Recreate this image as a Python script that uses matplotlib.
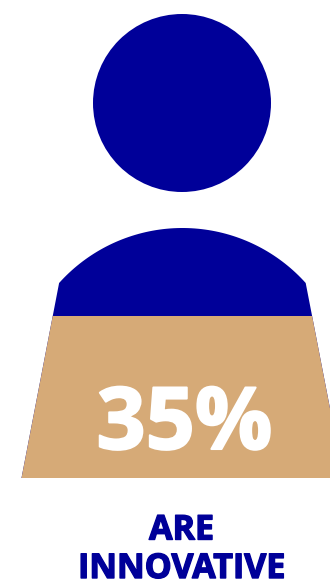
import numpy as np
import matplotlib
matplotlib.use('Agg')
import matplotlib.pyplot as plt
import matplotlib.patheffects as pe
from matplotlib.patches import Circle, PathPatch, Rectangle
from matplotlib.path import Path

# share of people and the caption under the figure
share_pct = 35
caption = ['ARE', 'INNOVATIVE']

NAVY = '#000099'
TAN = '#D6AA77'

fig = plt.figure(figsize=(3.30, 5.83), dpi=100)
ax = fig.add_axes([0, 0, 1, 1])
ax.set_xlim(0, 330)
ax.set_ylim(583, 0)
ax.axis('off')

# person outline runs from the top of the head to the base of the body
top, bottom = 14, 478

# head
head = Circle((182, 103), 89, fc=NAVY, ec='none')
ax.add_patch(head)

# shoulders as a circular arc, then straight sides down to the base
cx, cy, r = 182.4, 393.7, 165.7
ang = np.linspace(np.arcsin(110.7 / r), np.pi - np.arcsin(110.7 / r), 80)
arc_x = cx - r * np.cos(ang)
arc_y = cy - r * np.sin(ang)
verts = list(zip(arc_x, arc_y)) + [(343.5, bottom), (21.5, bottom), (arc_x[0], arc_y[0])]
body = Path(verts, closed=False)
ax.add_patch(PathPatch(body, fc=NAVY, ec='none'))

# fill the body from the base up to the share of the person's height
fill_top = bottom - (bottom - top) * share_pct / 100
fill = Rectangle((0, fill_top), 350, bottom - fill_top, fc=TAN, ec='none')
ax.add_patch(fill)
fill.set_clip_path(PathPatch(body, transform=ax.transData))

# thin stroke on the labels to make the bold heavier
pct = ax.text(184.5, 449, f'{share_pct}%', color='white', fontsize=62, family='Open Sans',
              weight='bold', ha='center', va='baseline')
pct.set_path_effects([pe.withStroke(linewidth=1.5, foreground='white')])
for label, y in zip(caption, [539.5, 578]):
    t = ax.text(181.5, y, label, color=NAVY, fontsize=24.5, family='Open Sans',
                weight='bold', ha='center', va='baseline')
    t.set_path_effects([pe.withStroke(linewidth=1.0, foreground=NAVY)])

fig.savefig('out.png', dpi=100)
